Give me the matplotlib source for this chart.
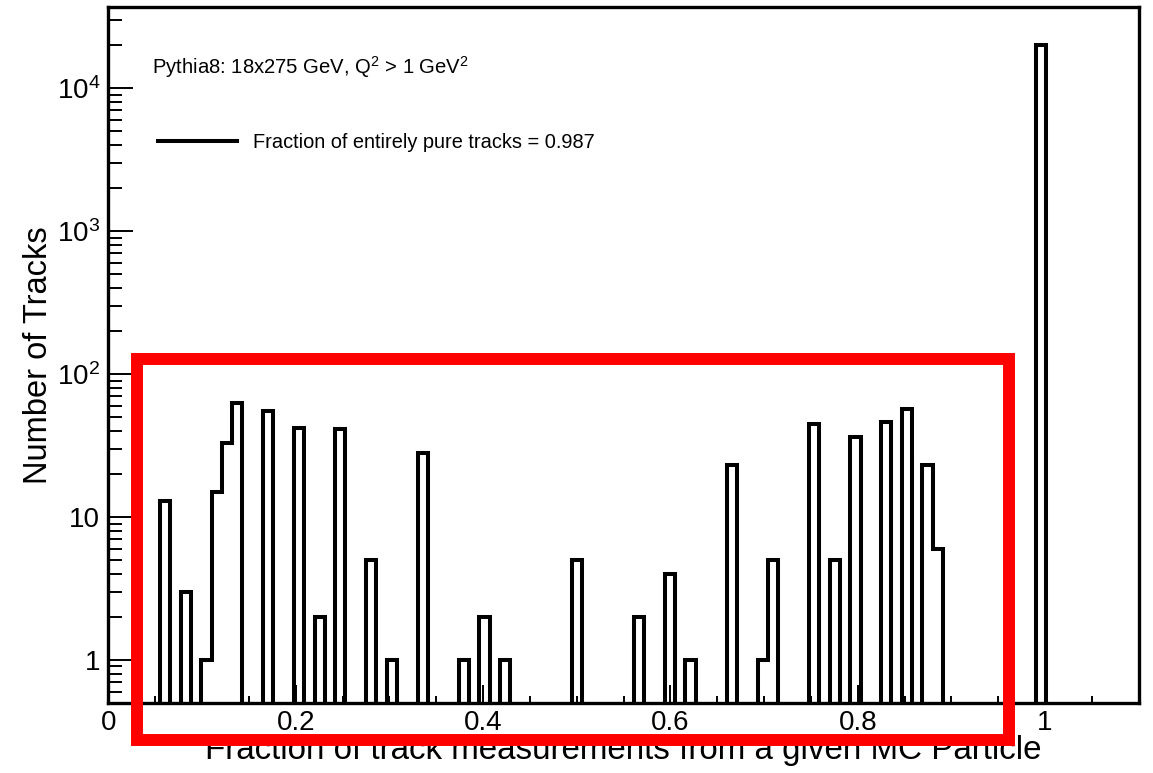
import numpy as np
import matplotlib.pyplot as plt
from matplotlib.lines import Line2D
from matplotlib.patches import Rectangle
from matplotlib.ticker import FuncFormatter, LogLocator, MultipleLocator, NullFormatter

plt.rcParams["font.family"] = ["Liberation Sans", "DejaVu Sans"]
plt.rcParams["mathtext.fontset"] = "custom"
plt.rcParams["mathtext.rm"] = "Liberation Sans"
plt.rcParams["mathtext.it"] = "Liberation Sans:italic"
plt.rcParams["mathtext.bf"] = "Liberation Sans:bold"

# hit fractions (k/n) that show up, and number of tracks at each
purity = [0.0625, 0.0833, 0.1000, 0.1111, 0.1250, 0.1429, 0.1667, 0.2000,
          0.2222, 0.2500, 0.2857, 0.3000, 0.3333, 0.3750, 0.4000, 0.4286,
          0.5000, 0.5714, 0.6000, 0.6250, 0.6667, 0.7000, 0.7143, 0.7500,
          0.7778, 0.8000, 0.8333, 0.8571, 0.8750, 0.8889, 1.0000]
n_tracks = [13, 3, 1, 15, 33, 63, 55, 42,
            2, 41, 5, 1, 28, 1, 2, 1,
            5, 2, 4, 1, 23, 1, 5, 45,
            5, 36, 46, 57, 23, 6, 20000]

n_bins, x_lo, x_hi = 100, 0.0, 1.1
pure_fraction = 0.987
title_text = r"Pythia8: 18x275 GeV, Q$^{2}$ > 1 GeV$^{2}$"

bins = np.linspace(x_lo, x_hi, n_bins + 1)

fig = plt.figure(figsize=(11.53, 7.73), dpi=100)
ax = fig.add_axes([0.0941, 0.0906, 0.8935, 0.9004])

ax.hist(purity, bins=bins, weights=n_tracks, histtype="step",
        color="black", linewidth=2.9, log=True)
ax.set_xlim(x_lo, x_hi)
ax.set_ylim(0.5, 3.7e4)

# ROOT-like axes
for s in ax.spines.values():
    s.set_linewidth(2.4)
ax.xaxis.set_major_locator(MultipleLocator(0.2))
ax.xaxis.set_minor_locator(MultipleLocator(0.05))
ax.xaxis.set_major_formatter(FuncFormatter(lambda v, p: f"{v:g}"))


def log_label(v, p):
    e = int(round(np.log10(v)))
    if e == 0:
        return "1"
    if e == 1:
        return "10"
    return r"$10^{%d}$" % e


ax.yaxis.set_major_locator(LogLocator(base=10, numticks=10))
ax.yaxis.set_minor_locator(LogLocator(base=10, subs=np.arange(2, 10), numticks=20))
ax.yaxis.set_major_formatter(FuncFormatter(log_label))
ax.yaxis.set_minor_formatter(NullFormatter())

ax.tick_params(axis="both", which="both", direction="in", top=False, right=False, width=1.4)
ax.tick_params(axis="y", which="major", length=18, labelsize=20, pad=6)
ax.tick_params(axis="y", which="minor", length=10)
ax.tick_params(axis="x", which="major", length=13, labelsize=20, pad=5)
ax.tick_params(axis="x", which="minor", length=5)

ax.set_xlabel("Fraction of track measurements from a given MC Particle", fontsize=23.9)
ax.set_ylabel("Number of Tracks", fontsize=23.5)
ax.xaxis.set_label_coords(0.5, -0.046)
ax.yaxis.set_label_coords(-0.053, 0.5)

ax.text(0.0422, 0.9037, title_text, transform=ax.transAxes, fontsize=14.6, va="baseline")

handle = Line2D([], [], color="black", linewidth=2.9)
ax.legend([handle], [f"Fraction of entirely pure tracks = {pure_fraction}"],
          loc="center left", bbox_to_anchor=(0.048, 0.8046), frameon=False,
          fontsize=14.4, handlelength=3.95, handletextpad=0.8,
          borderpad=0, borderaxespad=0)

# red highlight box drawn over the low-purity region
box = Rectangle((0.1184, 0.0427), 0.7563, 0.4929, transform=fig.transFigure,
                fill=False, edgecolor="#ff0000", linewidth=8.6, joinstyle="miter")
fig.add_artist(box)

fig.savefig("out.png", dpi=100)
